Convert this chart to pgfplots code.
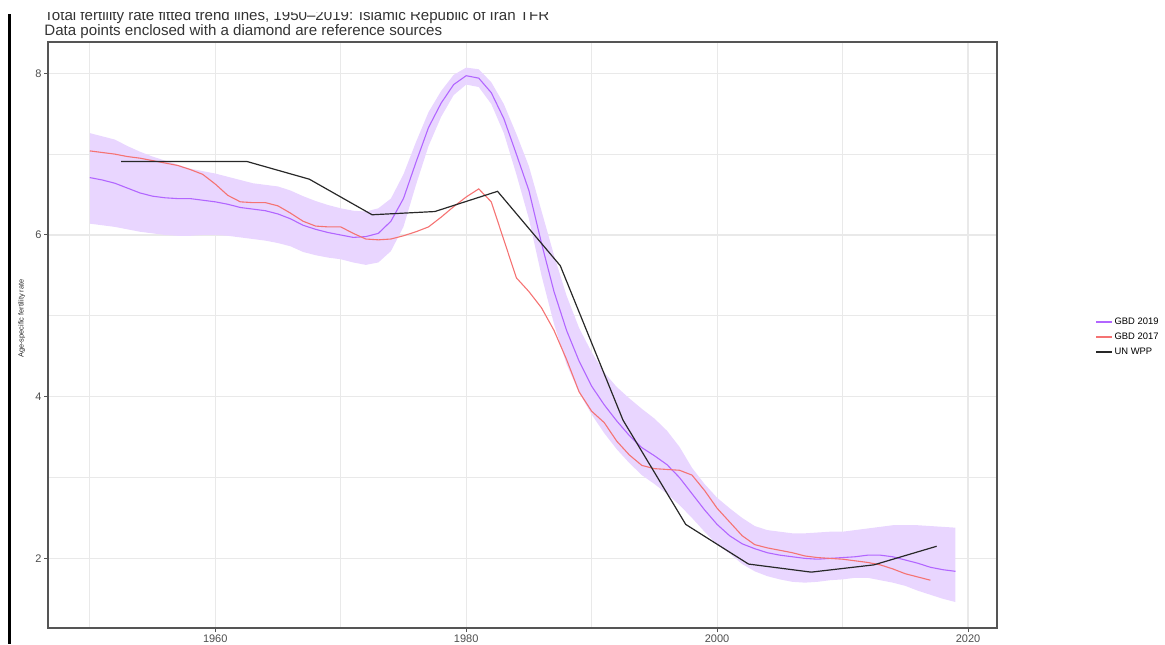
\documentclass[border=0pt]{standalone}
\usepackage{fontspec}
\setmainfont{Liberation Sans}
\usepackage{pgfplots}
\usepackage{pgfplotstable}
\pgfplotsset{compat=1.18}
\usepgfplotslibrary{fillbetween}

\definecolor{gbdnew}{RGB}{178,102,255}
\definecolor{gbdband}{RGB}{233,214,255}
\definecolor{gbdold}{RGB}{245,115,115}
\definecolor{wpp}{RGB}{40,40,40}
\definecolor{gridgrey}{RGB}{233,233,233}
\definecolor{framegrey}{RGB}{85,85,85}
\definecolor{ticktext}{RGB}{77,77,77}

% GBD 2019: fitted TFR with its uncertainty band
\pgfplotstableread{
year tfr upper lower
1950 6.71 7.26 6.14
1951 6.68 7.22 6.12
1952 6.64 7.18 6.10
1953 6.58 7.10 6.07
1954 6.52 7.03 6.04
1955 6.48 6.97 6.02
1956 6.46 6.92 6.00
1957 6.45 6.87 5.99
1958 6.45 6.82 5.99
1959 6.43 6.79 6.00
1960 6.41 6.76 6.00
1961 6.38 6.72 5.99
1962 6.34 6.68 5.97
1963 6.32 6.64 5.95
1964 6.30 6.62 5.93
1965 6.26 6.60 5.90
1966 6.20 6.55 5.86
1967 6.12 6.48 5.79
1968 6.07 6.42 5.75
1969 6.03 6.37 5.72
1970 6.00 6.33 5.70
1971 5.97 6.30 5.66
1972 5.98 6.29 5.63
1973 6.02 6.33 5.66
1974 6.17 6.45 5.80
1975 6.45 6.75 6.10
1976 6.90 7.15 6.62
1977 7.33 7.52 7.10
1978 7.63 7.78 7.46
1979 7.86 7.98 7.73
1980 7.97 8.07 7.86
1981 7.94 8.05 7.83
1982 7.76 7.89 7.62
1983 7.44 7.62 7.26
1984 7.00 7.25 6.75
1985 6.55 6.85 6.20
1986 5.90 6.30 5.50
1987 5.30 5.75 4.90
1988 4.82 5.25 4.40
1989 4.44 4.85 4.05
1990 4.13 4.55 3.78
1991 3.90 4.30 3.55
1992 3.70 4.12 3.35
1993 3.52 3.98 3.18
1994 3.37 3.85 3.03
1995 3.27 3.73 2.92
1996 3.16 3.58 2.80
1997 3.00 3.38 2.66
1998 2.80 3.12 2.50
1999 2.60 2.92 2.33
2000 2.42 2.75 2.17
2001 2.28 2.62 2.06
2002 2.18 2.50 1.93
2003 2.12 2.40 1.84
2004 2.07 2.35 1.78
2005 2.04 2.33 1.74
2006 2.02 2.31 1.71
2007 2.00 2.31 1.70
2008 1.99 2.32 1.71
2009 2.00 2.33 1.73
2010 2.01 2.33 1.74
2011 2.02 2.35 1.76
2012 2.04 2.37 1.76
2013 2.04 2.39 1.73
2014 2.02 2.41 1.70
2015 1.98 2.41 1.66
2016 1.94 2.41 1.60
2017 1.89 2.40 1.55
2018 1.86 2.39 1.50
2019 1.84 2.38 1.46
}\gbdnineteen

% GBD 2017
\pgfplotstableread{
year tfr
1950 7.04
1951 7.02
1952 7.00
1953 6.97
1954 6.95
1955 6.92
1956 6.89
1957 6.86
1958 6.81
1959 6.75
1960 6.63
1961 6.49
1962 6.41
1963 6.40
1964 6.40
1965 6.36
1966 6.27
1967 6.17
1968 6.11
1969 6.10
1970 6.10
1971 6.02
1972 5.95
1973 5.94
1974 5.95
1975 5.99
1976 6.04
1977 6.10
1978 6.22
1979 6.35
1980 6.47
1981 6.57
1982 6.41
1983 5.94
1984 5.47
1985 5.30
1986 5.10
1987 4.82
1988 4.46
1989 4.06
1990 3.82
1991 3.68
1992 3.45
1993 3.28
1994 3.15
1995 3.11
1996 3.10
1997 3.09
1998 3.03
1999 2.84
2000 2.62
2001 2.45
2002 2.28
2003 2.17
2004 2.13
2005 2.10
2006 2.07
2007 2.03
2008 2.01
2009 2.00
2010 1.99
2011 1.97
2012 1.95
2013 1.92
2014 1.87
2015 1.81
2016 1.77
2017 1.73
}\gbdseventeen

% UN WPP, five-year periods
\pgfplotstableread{
year tfr
1952.5 6.91
1957.5 6.91
1962.5 6.91
1967.5 6.69
1972.5 6.25
1977.5 6.29
1982.5 6.54
1987.5 5.62
1992.5 3.71
1997.5 2.42
2002.5 1.93
2007.5 1.83
2012.5 1.92
2017.5 2.15
}\unwpp

\begin{document}
\begin{tikzpicture}
% page frame: 1165 x 644 px at 0.5pt per px
\path (0pt,0pt) rectangle (582.5pt,322pt);

% dark rule at the left edge
\fill[black] (3.75pt,0pt) rectangle (5.5pt,315pt);

\begin{scope}
\clip (0pt,0pt) rectangle (582.5pt,315.5pt);
\node[anchor=base west, inner sep=0, font=\fontsize{7.55}{8}\selectfont, text=black!80]
  at (22pt,311.75pt) {Total fertility rate fitted trend lines, 1950--2019: Islamic Republic of Iran TFR};
\node[anchor=base west, inner sep=0, font=\fontsize{7.55}{8}\selectfont, text=black!80]
  at (22pt,304.25pt) {Data points enclosed with a diamond are reference sources};
\end{scope}

\begin{axis}[
    at={(24pt,8pt)}, anchor=south west,
    scale only axis,
    width=474.5pt, height=293pt,
    xmin=1946.67, xmax=2022.31,
    ymin=1.139, ymax=8.387,
    xtick={1960,1980,2000,2020},
    minor xtick={1950,1970,1990,2010},
    ytick={2,4,6,8},
    minor ytick={3,5,7},
    grid=both,
    major grid style={gridgrey, line width=0.6pt},
    minor grid style={gridgrey, line width=0.5pt},
    xtick pos=left, ytick pos=left,
    tick align=outside,
    major tick length=2pt,
    minor tick length=0pt,
    tick style={framegrey, line width=0.5pt},
    axis line style={framegrey, line width=0.9pt},
    /pgf/number format/assume math mode=true,
    /pgf/number format/1000 sep={},
    tick label style={font=\fontsize{5.5}{6}\selectfont, text=ticktext, inner sep=1pt},
    ylabel={Age-specific fertility rate},
    ylabel style={at={(axis description cs:-0.0277,0.528)}, anchor=center,
                  font=\fontsize{3.7}{4.5}\selectfont, text=black!85},
    legend style={at={(axis description cs:1.1033,0.4966)}, anchor=west,
                  draw=none, fill=none, inner sep=0pt, row sep=1pt,
                  font=\fontsize{4.7}{5.5}\selectfont,
                  nodes={inner sep=1pt, text height=3.5pt, text depth=1pt}},
    legend cell align=left,
    legend image code/.code={\draw[#1] (0pt,0pt) -- (8pt,0pt);},
]
\addplot[draw=none, name path=up, forget plot] table[x=year, y=upper] {\gbdnineteen};
\addplot[draw=none, name path=lo, forget plot] table[x=year, y=lower] {\gbdnineteen};
\addplot[fill=gbdband, draw=none, forget plot] fill between[of=up and lo];

\addplot[gbdnew, line width=0.55pt] table[x=year, y=tfr] {\gbdnineteen};
\addlegendentry{GBD 2019}
\addplot[gbdold, line width=0.55pt] table[x=year, y=tfr] {\gbdseventeen};
\addlegendentry{GBD 2017}
\addplot[wpp, line width=0.6pt] table[x=year, y=tfr] {\unwpp};
\addlegendentry{UN WPP}
\end{axis}
\end{tikzpicture}
\end{document}
